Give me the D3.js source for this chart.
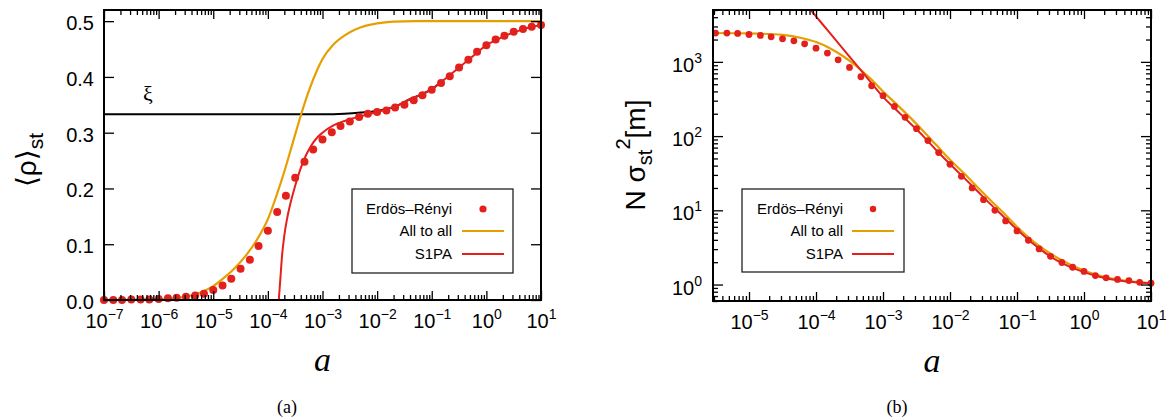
<!DOCTYPE html>
<html>
<head>
<meta charset="utf-8">
<script src="https://cdn.jsdelivr.net/npm/d3@7"></script>
<style>
  body { margin: 0; background: #fff; }
  text { font-family: "Liberation Sans", Arial, "DejaVu Sans", sans-serif; }
  text.serif { font-family: "Liberation Serif", "DejaVu Serif", serif; }
</style>
</head>
<body>
<script>
// ---- data (log10 a, value) ----
// panel (a): <rho>_st
var rhoDotsLogA = [-7.00,-6.83,-6.67,-6.50,-6.33,-6.17,-6.00,-5.83,-5.67,-5.50,-5.33,-5.17,
  -5.00,-4.83,-4.67,-4.50,-4.33,-4.17,-4.00,-3.83,-3.67,-3.50,-3.33,-3.17,
  -3.00,-2.83,-2.67,-2.50,-2.33,-2.17,-2.00,-1.83,-1.67,-1.50,-1.33,-1.17,
  -1.00,-0.83,-0.67,-0.50,-0.33,-0.17,0.00,0.17,0.33,0.50,0.67,0.83,1.00];
var rhoDots = [0.000,0.000,0.000,0.001,0.001,0.001,0.002,0.003,0.004,0.006,0.008,0.011,
  0.018,0.026,0.038,0.056,0.072,0.097,0.124,0.158,0.187,0.219,0.248,0.270,
  0.288,0.301,0.312,0.320,0.328,0.334,0.337,0.340,0.345,0.350,0.358,0.367,
  0.377,0.389,0.401,0.417,0.431,0.445,0.457,0.467,0.474,0.481,0.486,0.490,0.493];

var rhoAllLogA = [-7,-6.5,-6,-5.75,-5.5,-5.25,-5,-4.8,-4.6,-4.4,-4.2,-4.0,-3.85,-3.7,-3.55,-3.4,
  -3.25,-3.1,-3.0,-2.8,-2.6,-2.4,-2.2,-2.0,-1.7,-1.3,1];
var rhoAll = [0,0.0003,0.001,0.003,0.006,0.013,0.025,0.04,0.058,0.08,0.108,0.145,0.185,0.23,0.28,0.33,
  0.375,0.412,0.432,0.458,0.474,0.485,0.492,0.496,0.499,0.5,0.5];

var rhoS1paLogA = [-3.80,-3.77,-3.74,-3.70,-3.65,-3.6,-3.5,-3.4,-3.3,-3.2,-3.1,-3.0,-2.8,-2.6,-2.4,
  -2.2,-2.0,-1.8,-1.6,-1.4,-1.2,-1.0,-0.8,-0.6,-0.4,-0.2,0,0.2,0.4,0.6,0.8,1];
var rhoS1pa = [0,0.04,0.08,0.115,0.145,0.168,0.205,0.236,0.26,0.278,0.291,0.30,0.313,0.321,0.327,
  0.332,0.337,0.343,0.35,0.36,0.368,0.378,0.393,0.409,0.425,0.441,0.457,0.467,0.476,0.483,0.489,0.493];

var xiLogA = [-7,-3,-2.6,-2.3,-2.0,-1.8,-1.6,-1.4,-1.2,-1.0,-0.8];
var xi = [0.333,0.333,0.334,0.336,0.339,0.343,0.35,0.36,0.368,0.378,0.393];

// panel (b): N sigma^2
var sigDotsLogA = [-5.50,-5.33,-5.17,-5.00,-4.83,-4.67,-4.50,-4.33,-4.17,-4.00,-3.83,-3.67,
  -3.50,-3.33,-3.17,-3.00,-2.83,-2.67,-2.50,-2.33,-2.17,-2.00,-1.83,-1.67,
  -1.50,-1.33,-1.17,-1.00,-0.83,-0.67,-0.50,-0.33,-0.17,0.00,0.17,0.33,0.50,0.67,0.83,1.00];
var sigDots = [2443,2443,2420,2339,2270,2178,2046,1923,1753,1531,1313,1066,
  841,630,477,350,251,179,126,87,60,41.6,28.7,20.0,
  13.9,10.0,7.2,5.27,3.95,3.02,2.40,1.98,1.71,1.50,1.32,1.23,1.17,1.13,1.07,1.04];

var sigAllLogA = [-5.54,-5.0,-4.5,-4.2,-4.0,-3.8,-3.6,-3.4,-3.2,-3.0,-2.8,-2.6,-2.4,-2.2,-2.0,
  -1.8,-1.6,-1.4,-1.2,-1.0,-0.8,-0.6,-0.4,-0.2,0,0.2,0.4,0.6,0.8,1];
var sigAll = [2450,2420,2310,2080,1850,1540,1200,880,610,400,270,180,117,75,48,
  32,21,13.8,9.2,6.0,4.1,3.0,2.3,1.85,1.55,1.34,1.21,1.13,1.08,1.05];

var sigS1paLogA = [-4.2,-4.0,-3.8,-3.6,-3.4,-3.2,-3.0,-2.8,-2.6,-2.4,-2.2,-2.0,-1.8,-1.6,-1.4,
  -1.2,-1.0,-0.8,-0.6,-0.4,-0.2,0,0.2,0.4,0.6,0.8,1];
var sigS1pa = [6760,4100,2490,1510,916,555,337,225,150,100,64,42,28,18.5,12.2,
  8.2,5.5,3.8,2.75,2.1,1.72,1.47,1.29,1.18,1.11,1.07,1.04];

var legendLabels = ["Erdös\u2013Rényi", "All to all", "S1PA"];
var rhoTicks = [0, 0.1, 0.2, 0.3, 0.4, 0.5];

var RED = "#e3211c", ORANGE = "#e69f00";

function zip(lx, ys) { return lx.map(function(l, i) { return [Math.pow(10, l), ys[i]]; }); }

var svg = d3.select("body").append("svg").attr("width", 1168).attr("height", 419);

function sup(sel, exp) {
  sel.each(function() {
    var t = d3.select(this);
    t.text(null);
    t.append("tspan").text("10");
    t.append("tspan").attr("dy", -9).attr("font-size", "14px").text(exp);
  });
}
function expLabel(d) { var e = Math.round(Math.log10(d)); return e < 0 ? "\u2212" + (-e) : "" + e; }

function logTicks(scale) {
  var all = scale.ticks();
  var major = all.filter(function(d) { return Math.abs(Math.log10(d) - Math.round(Math.log10(d))) < 1e-9; });
  var minor = all.filter(function(d) { return major.indexOf(d) < 0; });
  return [major, minor];
}

function frameAxes(g, x, y, left, right, top, bottom, yLog) {
  var xt = logTicks(x);
  // bottom + top x ticks (inward)
  var gb = g.append("g").attr("transform", "translate(0," + bottom + ")")
    .call(d3.axisBottom(x).tickValues(xt[0]).tickSize(-9).tickPadding(14));
  gb.selectAll(".tick text").attr("font-size", "20px").attr("fill", "#000").attr("font-family", null)
    .each(function(d) { sup(d3.select(this), expLabel(d)); });
  g.append("g").attr("transform", "translate(0," + bottom + ")")
    .call(d3.axisBottom(x).tickValues(xt[1]).tickSize(-5).tickFormat(""));
  g.append("g").attr("transform", "translate(0," + top + ")")
    .call(d3.axisTop(x).tickValues(xt[0]).tickSize(-9).tickFormat(""));
  g.append("g").attr("transform", "translate(0," + top + ")")
    .call(d3.axisTop(x).tickValues(xt[1]).tickSize(-5).tickFormat(""));

  var gl, yt;
  if (yLog) {
    yt = logTicks(y);
    gl = g.append("g").attr("transform", "translate(" + left + ",0)")
      .call(d3.axisLeft(y).tickValues(yt[0]).tickSize(-10).tickPadding(11));
    gl.selectAll(".tick text").attr("font-size", "20px").attr("fill", "#000").attr("font-family", null)
      .attr("dy", "0.48em").each(function(d) { sup(d3.select(this), expLabel(d)); });
    g.append("g").attr("transform", "translate(" + left + ",0)")
      .call(d3.axisLeft(y).tickValues(yt[1]).tickSize(-5).tickFormat(""));
    g.append("g").attr("transform", "translate(" + right + ",0)")
      .call(d3.axisRight(y).tickValues(yt[0]).tickSize(-10).tickFormat(""));
    g.append("g").attr("transform", "translate(" + right + ",0)")
      .call(d3.axisRight(y).tickValues(yt[1]).tickSize(-5).tickFormat(""));
  } else {
    gl = g.append("g").attr("transform", "translate(" + left + ",0)")
      .call(d3.axisLeft(y).tickValues(rhoTicks).tickSize(-10).tickPadding(10).tickFormat(d3.format(".1f")));
    gl.selectAll(".tick text").attr("font-size", "20px").attr("fill", "#000").attr("font-family", null).attr("dy", "0.42em");
    g.append("g").attr("transform", "translate(" + right + ",0)")
      .call(d3.axisRight(y).tickValues(rhoTicks).tickSize(-10).tickFormat(""));
  }
  g.selectAll(".domain").remove();
  g.selectAll(".tick line").attr("stroke", "#000").attr("stroke-width", 1.3);
}

function legend(g, x0, y0, w, h, textX, lineX0, lineX1, dotR) {
  g.append("rect").attr("x", x0).attr("y", y0).attr("width", w).attr("height", h)
    .attr("fill", "#fff").attr("stroke", "#222").attr("stroke-width", 1.3);
  var rows = [y0 + 20, y0 + 42, y0 + 65];
  legendLabels.forEach(function(l, i) {
    g.append("text").attr("x", textX).attr("y", rows[i]).attr("dy", "0.35em")
      .attr("text-anchor", "end").attr("font-size", "15px").text(l);
  });
  g.append("circle").attr("cx", (lineX0 + lineX1) / 2).attr("cy", rows[0]).attr("r", dotR).attr("fill", RED);
  g.append("line").attr("x1", lineX0).attr("x2", lineX1).attr("y1", rows[1]).attr("y2", rows[1])
    .attr("stroke", ORANGE).attr("stroke-width", 2.2);
  g.append("line").attr("x1", lineX0).attr("x2", lineX1).attr("y1", rows[2]).attr("y2", rows[2])
    .attr("stroke", RED).attr("stroke-width", 2);
}

// ================= panel (a) =================
var L = {left: 104, right: 541, top: 10, bottom: 300};
var xa = d3.scaleLog().domain([1e-7, 10]).range([L.left, L.right]);
var ya = d3.scaleLinear().domain([0, 0.52]).range([L.bottom, L.top]);
var ga = svg.append("g");
ga.append("clipPath").attr("id", "clipA").append("rect")
  .attr("x", L.left).attr("y", L.top).attr("width", L.right - L.left).attr("height", L.bottom - L.top);

var lineA = d3.line().x(function(d) { return xa(d[0]); }).y(function(d) { return ya(d[1]); }).curve(d3.curveMonotoneX);
var ca = ga.append("g").attr("clip-path", "url(#clipA)");
ca.append("path").attr("d", lineA(zip(xiLogA, xi))).attr("fill", "none").attr("stroke", "#000").attr("stroke-width", 2);
ca.append("path").attr("d", lineA(zip(rhoAllLogA, rhoAll))).attr("fill", "none").attr("stroke", ORANGE).attr("stroke-width", 2.2);
ca.append("path").attr("d", lineA(zip(rhoS1paLogA, rhoS1pa))).attr("fill", "none").attr("stroke", RED).attr("stroke-width", 2);
ga.append("g").selectAll("circle").data(zip(rhoDotsLogA, rhoDots)).join("circle")
  .attr("cx", function(d) { return xa(d[0]); }).attr("cy", function(d) { return ya(d[1]); })
  .attr("r", 4).attr("fill", RED);

frameAxes(ga, xa, ya, L.left, L.right, L.top, L.bottom, false);
ga.append("rect").attr("x", L.left).attr("y", L.top).attr("width", L.right - L.left).attr("height", L.bottom - L.top)
  .attr("fill", "none").attr("stroke", "#000").attr("stroke-width", 2);
legend(ga, 352, 189, 161, 84, 452, 462, 504, 3.6);

ga.append("text").attr("class", "serif").attr("x", 148).attr("y", 101).attr("text-anchor", "middle")
  .attr("font-size", "22px").text("\u03be");

var yla = ga.append("text").attr("transform", "translate(36,160) rotate(-90)").attr("text-anchor", "middle")
  .attr("font-size", "28px");
yla.append("tspan").text("\u27e8\u03c1\u27e9");
yla.append("tspan").attr("font-size", "21px").attr("dy", 7).text("st");

ga.append("text").attr("class", "serif").attr("x", (L.left + L.right) / 2).attr("y", 371).attr("text-anchor", "middle")
  .attr("font-style", "italic").attr("font-size", "34px").text("a");
ga.append("text").attr("class", "serif").attr("x", 287).attr("y", 413).attr("text-anchor", "middle")
  .attr("font-size", "18px").text("(a)");

// ================= panel (b) =================
var R = {left: 713, right: 1151, top: 10, bottom: 301};
var xb = d3.scaleLog().domain([2.9e-6, 10]).range([R.left, R.right]);
var yb = d3.scaleLog().domain([0.6, 5000]).range([R.bottom, R.top]);
var gbp = svg.append("g");
gbp.append("clipPath").attr("id", "clipB").append("rect")
  .attr("x", R.left).attr("y", R.top).attr("width", R.right - R.left).attr("height", R.bottom - R.top);
var lineB = d3.line().x(function(d) { return xb(d[0]); }).y(function(d) { return yb(d[1]); }).curve(d3.curveMonotoneX);
var cb = gbp.append("g").attr("clip-path", "url(#clipB)");
cb.append("path").attr("d", lineB(zip(sigAllLogA, sigAll))).attr("fill", "none").attr("stroke", ORANGE).attr("stroke-width", 2.2);
cb.append("path").attr("d", lineB(zip(sigS1paLogA, sigS1pa))).attr("fill", "none").attr("stroke", RED).attr("stroke-width", 2);
gbp.append("g").selectAll("circle").data(zip(sigDotsLogA, sigDots)).join("circle")
  .attr("cx", function(d) { return xb(d[0]); }).attr("cy", function(d) { return yb(d[1]); })
  .attr("r", 3.4).attr("fill", RED);

frameAxes(gbp, xb, yb, R.left, R.right, R.top, R.bottom, true);
gbp.append("rect").attr("x", R.left).attr("y", R.top).attr("width", R.right - R.left).attr("height", R.bottom - R.top)
  .attr("fill", "none").attr("stroke", "#000").attr("stroke-width", 2);
legend(gbp, 742, 189, 162, 83, 843, 852, 894, 3.2);

var ylb = gbp.append("text").attr("transform", "translate(645,155) rotate(-90)").attr("text-anchor", "middle")
  .attr("font-size", "28px");
ylb.append("tspan").text("N \u03c3");
ylb.append("tspan").attr("font-size", "20px").attr("dy", 7).text("st");
ylb.append("tspan").attr("font-size", "20px").attr("dy", -22).text("2");
ylb.append("tspan").attr("dy", 15).text("[m]");

gbp.append("text").attr("class", "serif").attr("x", (R.left + R.right) / 2).attr("y", 372).attr("text-anchor", "middle")
  .attr("font-style", "italic").attr("font-size", "34px").text("a");
gbp.append("text").attr("class", "serif").attr("x", 897).attr("y", 413).attr("text-anchor", "middle")
  .attr("font-size", "18px").text("(b)");
</script>
</body>
</html>
